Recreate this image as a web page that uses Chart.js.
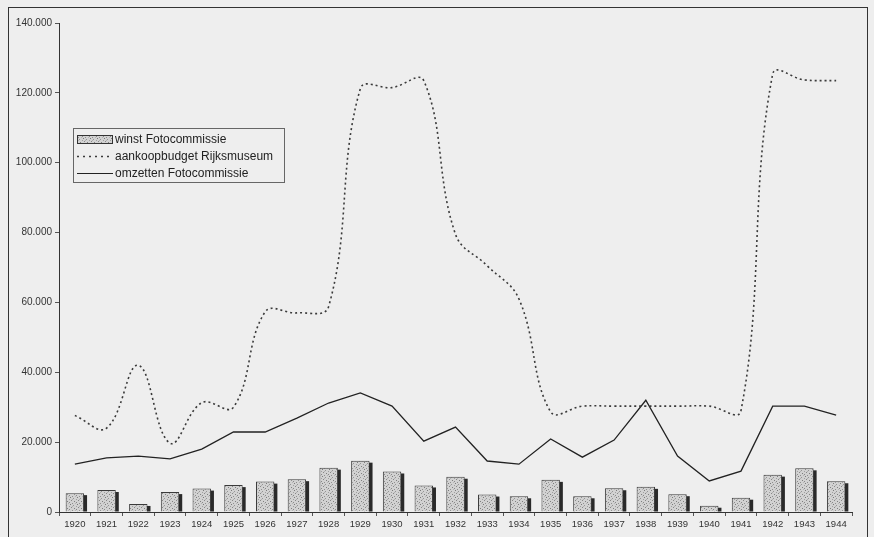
<!DOCTYPE html>
<html>
<head>
<meta charset="utf-8">
<script src="https://cdn.jsdelivr.net/npm/chart.js@4"></script>
<style>
  html,body{margin:0;padding:0;background:#eeeeee;}
  #wrap{position:relative;width:874px;height:537px;overflow:hidden;}
  #frame{position:absolute;left:8px;top:7px;width:860px;height:560px;border:1px solid #333;box-sizing:border-box;}
  canvas{position:absolute;left:0;top:0;}
  #legend{position:absolute;left:73px;top:128px;width:212px;height:55px;border:1px solid #666;box-sizing:border-box;
    font-family:"Liberation Sans",Arial,sans-serif;font-size:12px;color:#222;}
  .row{position:absolute;left:2px;height:16px;line-height:16px;white-space:nowrap;}
  .row span{position:absolute;left:39px;top:0;}
  .s{position:absolute;left:0;top:0;width:38px;height:16px;}
</style>
</head>
<body>
<div id="wrap">
  <div id="frame"></div>
  <canvas id="c" width="874" height="537"></canvas>
  <div id="legend">
    <div class="row" style="top:2px"><canvas class="s" id="lg0" width="38" height="16"></canvas><span>winst Fotocommissie</span></div>
    <div class="row" style="top:19px"><canvas class="s" id="lg1" width="38" height="16"></canvas><span>aankoopbudget Rijksmuseum</span></div>
    <div class="row" style="top:36px"><canvas class="s" id="lg2" width="38" height="16"></canvas><span>omzetten Fotocommissie</span></div>
  </div>
</div>
<script>
const years = ['1920','1921','1922','1923','1924','1925','1926','1927','1928','1929','1930','1931','1932','1933','1934','1935','1936','1937','1938','1939','1940','1941','1942','1943','1944'];
const winst = [5400,6300,2300,5700,6700,7700,8700,9400,12700,14700,11600,7600,10100,5000,4500,9200,4500,6800,7200,5100,1800,4100,10700,12500,8800];
const aankoopbudget = [27600,24000,42000,19700,31300,30000,57300,57000,58800,121200,121500,123500,79500,70500,61000,28700,30300,30300,30300,30300,30300,29000,125400,123700,123500];
const omzetten = [13700,15500,16000,15200,18000,22900,22900,26900,31200,34100,30300,20300,24300,14600,13700,20900,15700,20600,32000,16000,8900,11700,30300,30300,27700];
const yTicks = [0,20000,40000,60000,80000,100000,120000,140000];

function makePattern(){
  const p = document.createElement('canvas');
  p.width = 7; p.height = 7;
  const g = p.getContext('2d');
  g.fillStyle = '#d2d2d2'; g.fillRect(0,0,7,7);
  const dots = [[0,0,'#7a7a7a'],[3,1,'#959595'],[1,3,'#888'],[4,4,'#7f7f7f'],[6,2,'#a0a0a0'],[2,6,'#909090'],[5,6,'#b5b5b5'],[6,5,'#8a8a8a'],[2,2,'#b0b0b0']];
  dots.forEach(d=>{g.fillStyle=d[2]; g.fillRect(d[0],d[1],1,1);});
  return g.createPattern(p,'repeat');
}
const ctx = document.getElementById('c').getContext('2d');
const pattern = makePattern();

const fmt = v => String(v).replace(/\B(?=(\d{3})+(?!\d))/g,'.');

const shadowPlugin = {
  id:'barShadow',
  beforeDatasetDraw(chart,args){
    const ds = chart.data.datasets[args.index];
    if(ds.type!=='bar') return;
    const c=chart.ctx; c.save();
    c.fillStyle='#2a2a2a';
    args.meta.data.forEach(el=>{
      const p = el.getProps(['x','y','base','width'],true);
      const right = p.x + p.width/2;
      c.fillRect(right-0.5, p.y+2, 3.5, p.base - p.y - 2);
    });
    c.restore();
  }
};

new Chart(ctx,{
  data:{
    labels: years,
    datasets:[
      {type:'line',label:'aankoopbudget Rijksmuseum',data:aankoopbudget,borderColor:'#3a3a3a',borderWidth:1.6,borderDash:[2,3],pointRadius:0,tension:0.4,fill:false,order:1},
      {type:'line',label:'omzetten Fotocommissie',data:omzetten,borderColor:'#222',borderWidth:1.3,pointRadius:0,tension:0,fill:false,order:1},
      {type:'bar',label:'winst Fotocommissie',data:winst,backgroundColor:pattern,borderColor:'#3a3a3a',borderWidth:1,barPercentage:0.58,categoryPercentage:1,order:2}
    ]
  },
  options:{
    responsive:false,
    animation:false,
    events:[],
    layout:{padding:{left:0,right:22,top:23,bottom:0}},
    plugins:{legend:{display:false},tooltip:{enabled:false}},
    scales:{
      x:{
        offset:true,
        grid:{display:true,drawOnChartArea:false,drawTicks:true,tickLength:4,color:'#555',offset:true},
        border:{display:true,color:'#333',width:1},
        ticks:{color:'#333',font:{family:'"Liberation Sans", Arial, sans-serif',size:9.5},padding:3,maxRotation:0,autoSkip:false},
        afterFit(s){s.height=25;}
      },
      y:{
        min:0,max:140000,
        afterBuildTicks(s){s.ticks = yTicks.map(v=>({value:v}));},
        grid:{display:true,drawOnChartArea:false,drawTicks:true,tickLength:4,color:'#555'},
        border:{display:true,color:'#333',width:1},
        ticks:{color:'#333',font:{family:'"Liberation Sans", Arial, sans-serif',size:10},padding:3,callback:v=>fmt(v)},
        afterFit(s){s.width=59;}
      }
    }
  },
  plugins:[shadowPlugin]
});

// legend samples
(function(){
  const a=document.getElementById('lg0').getContext('2d');
  a.fillStyle=pattern; a.fillRect(1,4,35,8); a.strokeStyle='#333'; a.lineWidth=1; a.strokeRect(1.5,4.5,35,8);
  const b=document.getElementById('lg1').getContext('2d');
  b.strokeStyle='#3a3a3a'; b.lineWidth=1.4; b.setLineDash([2,4]); b.beginPath(); b.moveTo(1,8.5); b.lineTo(37,8.5); b.stroke();
  const d=document.getElementById('lg2').getContext('2d');
  d.strokeStyle='#222'; d.lineWidth=1.2; d.beginPath(); d.moveTo(1,8.5); d.lineTo(37,8.5); d.stroke();
})();
</script>
</body>
</html>
